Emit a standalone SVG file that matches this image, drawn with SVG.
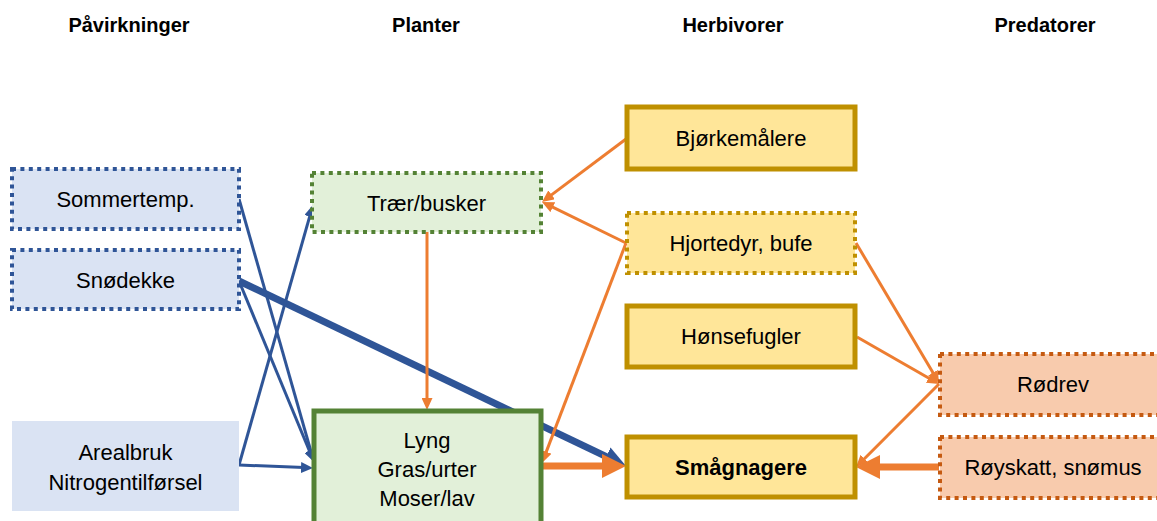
<svg xmlns="http://www.w3.org/2000/svg" width="1157" height="521" viewBox="0 0 1157 521">
  <style>
    text { font-family: "Liberation Sans", Arial, sans-serif; fill: #000; text-anchor: middle; }
    .hdr { font-size: 20px; font-weight: bold; }
    .lbl { font-size: 22px; }
    .bold { font-weight: bold; }
    .blue-dot { fill: #DAE3F3; stroke: #2F5597; stroke-width: 4; stroke-dasharray: 4 4.4; }
    .blue-flat { fill: #DAE3F3; stroke: none; }
    .green-dot { fill: #E2F0D9; stroke: #548235; stroke-width: 4; stroke-dasharray: 4 4.4; }
    .green-solid { fill: #E2F0D9; stroke: #548235; stroke-width: 5; }
    .yellow-solid { fill: #FFE699; stroke: #BF9000; stroke-width: 5; }
    .yellow-dot { fill: #FFE699; stroke: #BF9000; stroke-width: 4; stroke-dasharray: 4 4.4; }
    .orange-dot { fill: #F8CBAD; stroke: #C55A11; stroke-width: 4; stroke-dasharray: 4 4.4; }
    .blue-line { stroke: #2F5597; stroke-width: 3; fill: none; marker-end: url(#arrowBlue); }
    .blue-thick { stroke: #2F5597; stroke-width: 7; fill: none; marker-end: url(#arrowBlueBig); }
    .orange-line { stroke: #ED7D31; stroke-width: 3; fill: none; marker-end: url(#arrowOrange); }
    .orange-thick { stroke: #ED7D31; stroke-width: 7; fill: none; marker-end: url(#arrowOrangeBig); }
  </style>
  <defs>
    <marker id="arrowBlue" markerUnits="userSpaceOnUse" markerWidth="12" markerHeight="11" refX="3" refY="5.5" orient="auto">
      <path d="M0,0 L12,5.5 L0,11 z" fill="#2F5597"/>
    </marker>
    <marker id="arrowOrange" markerUnits="userSpaceOnUse" markerWidth="12" markerHeight="11" refX="3" refY="5.5" orient="auto">
      <path d="M0,0 L12,5.5 L0,11 z" fill="#ED7D31"/>
    </marker>
    <marker id="arrowBlueBig" markerUnits="userSpaceOnUse" markerWidth="22" markerHeight="20" refX="6" refY="10" orient="auto">
      <path d="M0,0 L22,10 L0,20 z" fill="#2F5597"/>
    </marker>
    <marker id="arrowOrangeBig" markerUnits="userSpaceOnUse" markerWidth="24" markerHeight="24" refX="6" refY="12" orient="auto">
      <path d="M0,0 L24,12 L0,24 z" fill="#ED7D31"/>
    </marker>
  </defs>

  <rect width="1157" height="521" fill="#FFFFFF"/>

  <!-- column headings -->
  <g id="headers">
    <text class="hdr" x="129" y="32">Påvirkninger</text>
    <text class="hdr" x="426" y="32">Planter</text>
    <text class="hdr" x="733" y="32">Herbivorer</text>
    <text class="hdr" x="1045" y="32">Predatorer</text>
  </g>

  <!-- connectors (drawn under the boxes) -->
  <g id="connectors">
    <!-- drivers -->
    <path class="blue-line" d="M239,199 L311.5,453.3"/>
    <path class="blue-line" d="M239,281 L310.6,453.7"/>
    <path class="blue-thick" d="M239,281 L611.6,459.1"/>
    <path class="blue-line" d="M239,465 L310.5,213.7"/>
    <path class="blue-line" d="M239,465 L304,467.6"/>
    <!-- plants and herbivores -->
    <path class="orange-line" d="M427,232 L427,401"/>
    <path class="orange-line" d="M626,139 L549.2,196.6"/>
    <path class="orange-line" d="M626,243 L550.1,205.9"/>
    <path class="orange-line" d="M626,243 L545.2,454.6"/>
    <path class="orange-thick" d="M542,466 L608,466"/>
    <!-- predators -->
    <path class="orange-line" d="M856,243 L934.5,375.2"/>
    <path class="orange-line" d="M857,337 L931.2,379.5"/>
    <path class="orange-line" d="M939,384 L862.4,460.7"/>
    <path class="orange-thick" d="M939,467 L874,467"/>
  </g>

  <g id="node-sommertemp">
    <rect class="blue-dot" x="12" y="169" width="227" height="60"/>
    <text class="lbl" x="125.5" y="207">Sommertemp.</text>
  </g>
  <g id="node-snodekke">
    <rect class="blue-dot" x="12" y="250" width="227" height="59"/>
    <text class="lbl" x="125.5" y="288">Snødekke</text>
  </g>
  <g id="node-arealbruk">
    <rect class="blue-flat" x="12" y="421" width="227" height="90"/>
    <text class="lbl" x="125.5" y="460">Arealbruk</text>
    <text class="lbl" x="125.5" y="490">Nitrogentilførsel</text>
  </g>

  <g id="node-traer">
    <rect class="green-dot" x="312" y="173" width="229" height="59"/>
    <text class="lbl" x="426.5" y="211">Trær/busker</text>
  </g>
  <g id="node-lyng">
    <rect class="green-solid" x="314" y="411" width="227" height="120"/>
    <text class="lbl" x="427" y="448">Lyng</text>
    <text class="lbl" x="427" y="477">Gras/urter</text>
    <text class="lbl" x="427" y="506">Moser/lav</text>
  </g>

  <g id="node-bjorkemalere">
    <rect class="yellow-solid" x="627" y="107" width="228" height="62"/>
    <text class="lbl" x="741" y="146">Bjørkemålere</text>
  </g>
  <g id="node-hjortedyr">
    <rect class="yellow-dot" x="627" y="213" width="228" height="60"/>
    <text class="lbl" x="741" y="251">Hjortedyr, bufe</text>
  </g>
  <g id="node-honsefugler">
    <rect class="yellow-solid" x="627" y="306" width="228" height="61"/>
    <text class="lbl" x="741" y="344">Hønsefugler</text>
  </g>
  <g id="node-smagnagere">
    <rect class="yellow-solid" x="627" y="437" width="228" height="60"/>
    <text class="lbl bold" x="741" y="475">Smågnagere</text>
  </g>

  <g id="node-rodrev">
    <rect class="orange-dot" x="940" y="354" width="235" height="61"/>
    <text class="lbl" x="1053" y="392">Rødrev</text>
  </g>
  <g id="node-royskatt">
    <rect class="orange-dot" x="940" y="437" width="235" height="61"/>
    <text class="lbl" x="1053" y="475">Røyskatt, snømus</text>
  </g>
</svg>
